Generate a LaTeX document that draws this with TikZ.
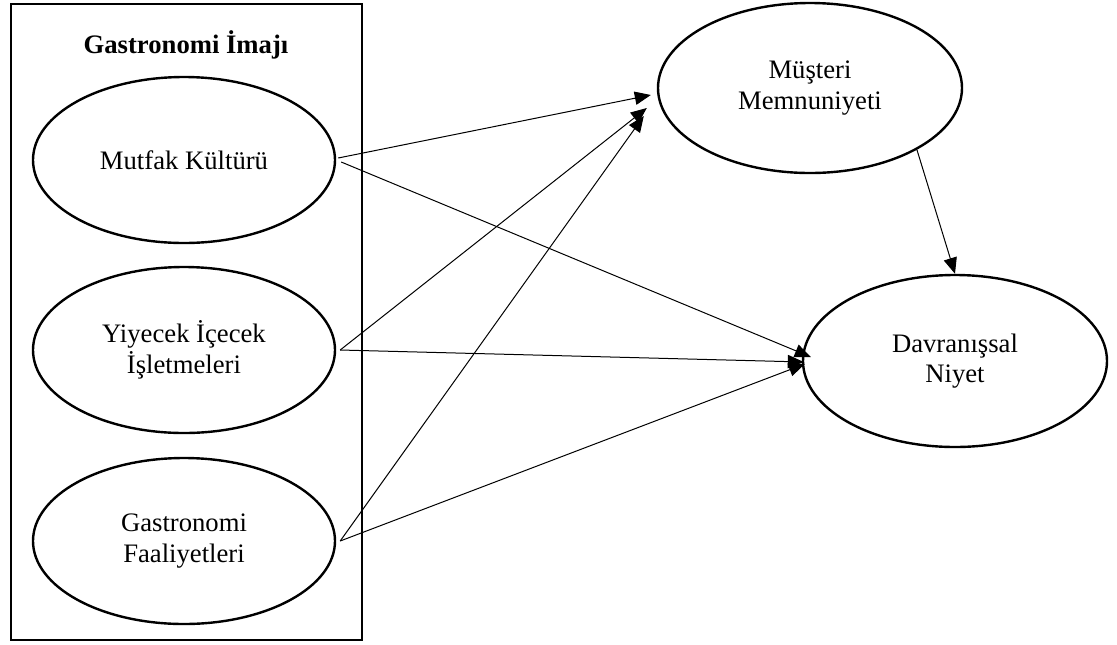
\documentclass[tikz,border=0pt]{standalone}
\usepackage{fontspec}
\setmainfont{Liberation Serif}
\usetikzlibrary{arrows.meta,shapes.geometric,calc}
\begin{document}
\begin{tikzpicture}[x=0.75pt,y=-0.75pt,
  oval/.style={ellipse,draw,line width=1.8pt,inner sep=0pt,align=center,
    font=\fontsize{20}{23}\selectfont},
  small/.style={oval,minimum width=302*0.75pt,minimum height=166*0.75pt},
  big/.style={oval,minimum width=304*0.75pt,minimum height=170*0.75pt},
  link/.style={line width=0.75pt,-{Triangle[length=12pt,width=10pt]}},
  frame/.style={draw,line width=1.6pt,inner sep=0pt}]
\useasboundingbox (0,0) rectangle (1117,644);
\node[frame,minimum width=351*0.75pt,minimum height=636*0.75pt,anchor=north west] (box) at (10,3) {};
\node[font=\bfseries\fontsize{20}{23}\selectfont] (title) at (186,45) {Gastronomi İmajı};
\node[small] (mk) at (184,160) {Mutfak Kültürü};
\node[small] (yi) at (184,350) {Yiyecek İçecek\\İşletmeleri};
\node[small] (gf) at (184,541) {Gastronomi\\Faaliyetleri};
\node[big] (mm) at (810,88) {Müşteri\\Memnuniyeti};
\node[big,minimum height=172*0.75pt] (dn) at (955,361) {Davranışsal\\Niyet};
\draw[link] ($(mk.east)+(2,-2)$) -- ($(mm.west)+(-6,7)$);
\draw[link] ($(mk.east)+(5,2)$) -- ($(dn.west)+(9,-4)$);
\draw[link] ($(yi.east)+(4,0)$) -- ($(mm.west)+(-10,20)$);
\draw[link] ($(yi.east)+(4,0)$) -- ($(dn.west)+(2,1)$);
\draw[link] ($(gf.east)+(4,0)$) -- ($(mm.west)+(-13,28)$);
\draw[link] ($(gf.east)+(4,0)$) -- ($(dn.west)+(3,3)$);
\draw[link] (mm.-30) -- (dn.north);
\end{tikzpicture}
\end{document}
